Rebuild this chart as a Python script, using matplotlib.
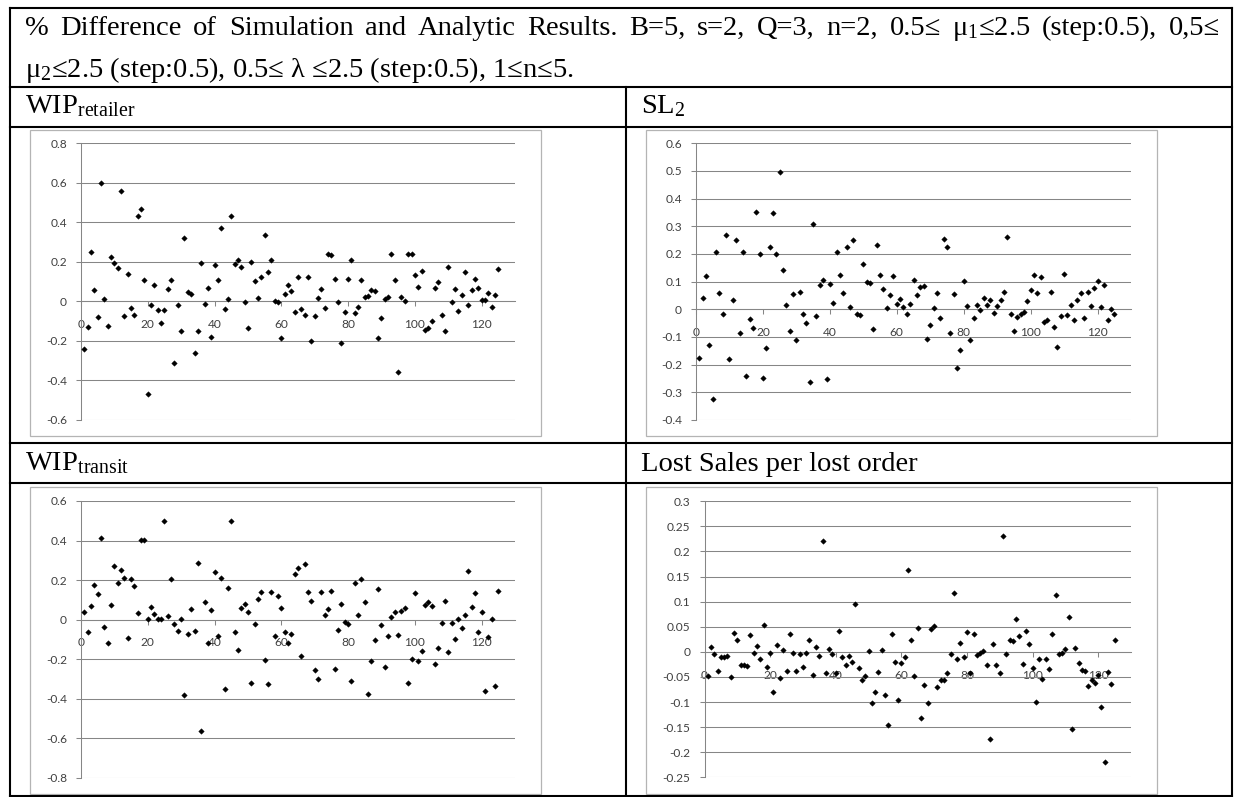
import matplotlib
matplotlib.use('Agg')
import matplotlib.pyplot as plt
import numpy as np
from matplotlib.patches import Rectangle

plt.rcParams['mathtext.fontset'] = 'custom'
plt.rcParams['mathtext.rm'] = 'Liberation Serif'
plt.rcParams['mathtext.it'] = 'Liberation Serif:italic'
plt.rcParams['mathtext.bf'] = 'Liberation Serif:bold'
plt.rcParams['axes.unicode_minus'] = False

# run number of each simulation case
runs = list(range(1, 126))

wip_retailer = [
    -0.24, -0.13, 0.248, 0.057, -0.08, 0.60, 0.013, -0.125, 0.226, 0.196,
    0.169, 0.56, -0.072, 0.14, -0.033, -0.069, 0.434, 0.467, 0.108, -0.469,
    -0.018, 0.084, -0.042, -0.11, -0.042, 0.064, 0.108, -0.31, -0.02, -0.148,
    0.32, 0.049, 0.035, -0.26, -0.148, 0.194, -0.012, 0.066, -0.179, 0.182,
    0.106, 0.373, -0.04, 0.013, 0.434, 0.189, 0.209, 0.176, -0.003, -0.133,
    0.2, 0.105, 0.017, 0.123, 0.334, 0.149, 0.208, 0.003, -0.005, -0.186,
    0.039, 0.084, 0.051, -0.056, 0.123, -0.04, -0.068, 0.123, -0.2, -0.073,
    0.018, 0.064, -0.034, 0.241, 0.235, 0.115, -0.003, -0.208, -0.055, 0.113,
    0.208, -0.057, -0.027, 0.108, 0.024, 0.029, 0.059, 0.052, -0.187, -0.083,
    0.012, 0.022, 0.238, 0.108, -0.358, 0.022, 0.002, 0.241, 0.241, 0.135,
    0.073, 0.152, -0.145, -0.133, -0.098, 0.069, 0.1, -0.069, -0.149, 0.176,
    -0.002, 0.061, -0.049, 0.034, 0.149, -0.02, 0.059, 0.115, 0.069, 0.005,
    0.008, 0.044, -0.029, 0.032, 0.165]

sl2 = [
    -0.177, 0.04, 0.119, -0.13, -0.324, 0.206, 0.058, -0.017, 0.27, -0.18,
    0.033, 0.249, -0.087, 0.207, -0.241, -0.034, -0.066, 0.351, 0.2, -0.247,
    -0.139, 0.225, 0.349, 0.199, 0.498, 0.143, 0.016, -0.078, 0.057, -0.111,
    0.063, -0.018, -0.048, -0.264, 0.31, -0.025, 0.088, 0.105, -0.252, 0.093,
    0.022, 0.207, 0.125, 0.058, 0.224, 0.007, 0.252, -0.016, -0.02, 0.164,
    0.098, 0.094, -0.072, 0.234, 0.124, 0.072, 0.006, 0.051, 0.119, 0.019,
    0.039, 0.008, -0.017, 0.021, 0.106, 0.053, 0.081, 0.084, -0.108, -0.057,
    0.005, 0.058, -0.03, 0.253, 0.225, -0.087, 0.055, -0.213, -0.148, 0.104,
    0.013, -0.112, -0.03, 0.016, -0.004, 0.042, 0.017, 0.033, -0.013, 0.013,
    0.034, 0.064, 0.26, -0.018, -0.078, -0.027, -0.016, -0.01, 0.031, 0.069,
    0.123, 0.06, 0.118, -0.045, -0.039, 0.064, -0.063, -0.135, -0.024, 0.127,
    -0.02, 0.014, -0.039, 0.033, 0.058, -0.033, 0.061, 0.013, 0.078, 0.101,
    0.01, 0.088, -0.04, 0.001, -0.018]

wip_transit = [
    0.037, -0.061, 0.071, 0.175, 0.13, 0.415, -0.04, -0.116, 0.073, 0.27,
    0.187, 0.251, 0.212, -0.091, 0.207, 0.17, 0.034, 0.403, 0.401, 0.002,
    0.064, 0.027, 0.002, 0.002, 0.499, 0.017, 0.206, -0.02, -0.057, 0.005,
    -0.381, -0.071, 0.056, -0.059, 0.285, -0.565, 0.089, -0.12, 0.049, 0.243,
    -0.084, 0.209, -0.349, 0.159, 0.499, -0.062, -0.155, 0.059, 0.081, 0.04,
    -0.32, -0.02, 0.105, 0.138, -0.202, -0.327, 0.14, -0.083, 0.121, 0.057,
    -0.062, -0.116, -0.071, 0.229, 0.263, -0.185, 0.283, 0.14, 0.096, -0.255,
    -0.3, 0.14, 0.024, 0.056, 0.145, -0.251, -0.054, 0.078, -0.01, -0.024,
    -0.31, 0.187, 0.024, 0.206, 0.089, -0.374, -0.212, -0.103, 0.157, -0.025,
    -0.238, -0.083, 0.015, 0.039, -0.078, 0.044, 0.059, -0.32, -0.201, 0.135,
    -0.209, -0.16, 0.074, 0.089, 0.069, -0.223, -0.145, -0.019, 0.096, -0.162,
    -0.019, -0.098, 0.005, -0.042, 0.025, 0.245, 0.064, 0.137, -0.062, 0.037,
    -0.363, -0.089, 0.002, -0.337, 0.145]

lost_sales = [
    -0.049, 0.01, -0.005, -0.039, -0.011, -0.01, -0.009, -0.051, 0.037, 0.024,
    -0.026, -0.027, -0.028, 0.033, -0.003, 0.011, -0.015, 0.053, -0.03, -0.002,
    -0.08, 0.013, -0.052, 0.003, -0.039, 0.035, -0.003, -0.039, -0.005, -0.031,
    -0.003, 0.023, -0.047, 0.009, -0.009, 0.221, -0.042, 0.006, -0.005, -0.043,
    0.041, -0.01, -0.027, -0.009, -0.02, 0.096, -0.033, -0.057, -0.048, 0.001,
    -0.102, -0.08, -0.04, 0.003, -0.086, -0.146, 0.035, -0.021, -0.095, -0.023,
    -0.01, 0.164, 0.023, -0.049, 0.047, -0.132, -0.066, -0.101, 0.046, 0.052,
    -0.071, -0.056, -0.056, -0.043, -0.005, 0.117, -0.014, 0.018, -0.01, 0.039,
    -0.042, 0.035, -0.007, -0.003, 0.001, -0.027, -0.173, 0.015, -0.027, -0.043,
    0.231, -0.004, 0.023, 0.022, 0.065, 0.031, -0.025, 0.041, 0.015, -0.033,
    -0.1, -0.014, -0.054, -0.014, -0.035, 0.036, 0.114, -0.005, -0.002, 0.005,
    0.07, -0.154, 0.007, -0.023, -0.037, -0.039, -0.069, -0.056, -0.062, -0.046,
    -0.11, -0.219, -0.041, -0.065, 0.023]

x_ticks = [0, 20, 40, 60, 80, 100, 120]
yticks_retailer = [-0.6, -0.4, -0.2, 0, 0.2, 0.4, 0.6, 0.8]
yticks_sl2 = [-0.4, -0.3, -0.2, -0.1, 0, 0.1, 0.2, 0.3, 0.4, 0.5, 0.6]
yticks_transit = [-0.8, -0.6, -0.4, -0.2, 0, 0.2, 0.4, 0.6]
yticks_lost = [-0.25, -0.2, -0.15, -0.1, -0.05, 0, 0.05, 0.1, 0.15, 0.2, 0.25, 0.3]

header_line1 = ('% Difference of Simulation and Analytic Results. B=5, s=2, Q=3, '
                'n=2, 0.5\u2264 \u03bc$_1$\u22642.5 (step:0.5), 0,5\u2264')
header_line2 = '\u03bc$_2$\u22642.5 (step:0.5), 0.5\u2264 \u03bb \u22642.5 (step:0.5), 1\u2264n\u22645.'
titles = ['WIP$_{\\mathrm{retailer}}$', 'SL$_2$', 'WIP$_{\\mathrm{transit}}$',
          'Lost Sales per lost order']

W, H = 1240, 797
fig = plt.figure(figsize=(W / 100, H / 100), dpi=100)
bg = fig.add_axes([0, 0, 1, 1])
bg.set_xlim(0, W)
bg.set_ylim(H, 0)
bg.axis('off')

serif = 'Liberation Serif'
hsize = 20.5

# table grid
L, R, T, B = 10, 1232, 7.5, 796
MID = 626
for y in [T, 86.7, 126.7, 443.3, 483.3, B]:
    bg.plot([L, R], [y, y], color='black', lw=1.5, solid_capstyle='projecting')
for x in [L, R]:
    bg.plot([x, x], [T, B], color='black', lw=1.5, solid_capstyle='projecting')
bg.plot([MID, MID], [86.7, B], color='black', lw=1.5)

# header, first line justified
renderer = fig.canvas.get_renderer()
words = header_line1.split(' ')
texts = [bg.text(0, 35, w, family=serif, fontsize=hsize, va='baseline') for w in words]
widths = [t.get_window_extent(renderer).width for t in texts]
gap = (1220 - 25 - sum(widths)) / (len(texts) - 1)
xpos = 25
for t, w in zip(texts, widths):
    t.set_x(xpos)
    xpos += w + gap
bg.text(25, 77, header_line2, family=serif, fontsize=hsize, va='baseline')

# row labels
label_pos = [(25, 113), (641, 113), (25, 470.5), (641, 470.5)]
for (lx, ly), title in zip(label_pos, titles):
    bg.text(lx, ly, title, family=serif, fontsize=hsize, va='baseline')

# chart frames
frames = [(30, 130, 541, 436), (646, 129.5, 1157, 436),
          (29.5, 487, 541, 794), (646, 487, 1157, 794)]
for x0, y0, x1, y1 in frames:
    bg.add_patch(Rectangle((x0, y0), x1 - x0, y1 - y0, fill=False,
                           ec='#b4b4b4', lw=0.9))

plots = [(81, 143.3, 515, 420), (696, 143.3, 1131, 420),
         (81, 501, 515, 777.7), (704.5, 501.3, 1131, 777.3)]
series = [wip_retailer, sl2, wip_transit, lost_sales]
yticks = [yticks_retailer, yticks_sl2, yticks_transit, yticks_lost]

grid_col = '#868686'
for (x0, y0, x1, y1), vals, yt in zip(plots, series, yticks):
    ax = fig.add_axes([x0 / W, 1 - y1 / H, (x1 - x0) / W, (y1 - y0) / H])
    ax.patch.set_alpha(0)
    ax.plot(runs, vals, linestyle='none', marker='D', ms=2.8,
            color='black', mec='black', mew=0.3, zorder=3, clip_on=False)
    ax.set_xlim(0, 130)
    ax.set_ylim(yt[0], yt[-1])
    ax.set_xticks(x_ticks)
    ax.set_xticklabels([str(v) for v in x_ticks])
    ax.set_yticks(yt)
    ax.set_yticklabels(['{:g}'.format(round(v, 3)) for v in yt])
    ax.grid(axis='y', color=grid_col, lw=0.75)
    ax.set_axisbelow(True)
    for s in ['top', 'right']:
        ax.spines[s].set_visible(False)
    ax.spines['left'].set_color(grid_col)
    ax.spines['left'].set_linewidth(0.75)
    ax.spines['bottom'].set_position(('data', 0))
    ax.spines['bottom'].set_color(grid_col)
    ax.spines['bottom'].set_linewidth(0.75)
    ax.tick_params(axis='both', color=grid_col, width=0.75, length=3.5,
                   labelcolor='#404040', labelsize=8.6)
    ax.tick_params(axis='x', pad=9.3)
    ax.tick_params(axis='y', pad=6.5)
    for lab in ax.get_xticklabels() + ax.get_yticklabels():
        lab.set_family('Lato')

fig.savefig('out.png', dpi=100)
